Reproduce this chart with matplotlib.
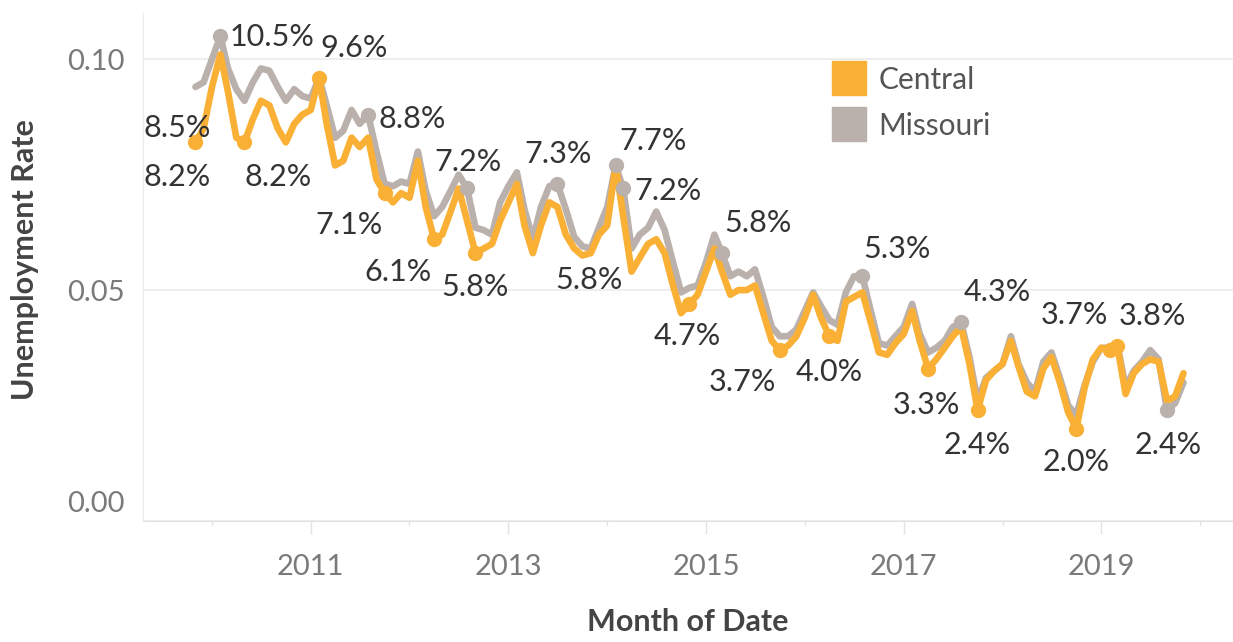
import numpy as np
import pandas as pd
import matplotlib
matplotlib.use("Agg")
import matplotlib.pyplot as plt
import matplotlib.dates as mdates
from matplotlib.lines import Line2D
from matplotlib.transforms import ScaledTranslation

plt.rcParams["font.family"] = ["Lato", "DejaVu Sans"]

# monthly unemployment rate (percent), Nov 2009 .. Nov 2019
months = pd.date_range("2009-11-01", periods=121, freq="MS")

central = [
    8.2, 8.5,
    9.4, 10.1, 9.3, 8.3, 8.2, 8.7, 9.1, 9.0, 8.5, 8.2, 8.6, 8.8,
    8.9, 9.6, 8.6, 7.7, 7.8, 8.3, 8.1, 8.3, 7.4, 7.1, 6.9, 7.1,
    7.0, 7.8, 6.8, 6.1, 6.2, 6.7, 7.2, 6.5, 5.8, 5.9, 6.0, 6.5,
    6.9, 7.3, 6.4, 5.8, 6.4, 6.9, 6.8, 6.2, 5.9, 5.75, 5.8, 6.2,
    6.4, 7.7, 6.6, 5.4, 5.7, 6.0, 6.1, 5.8, 5.1, 4.5, 4.7, 4.9,
    5.4, 5.9, 5.4, 4.9, 5.0, 5.0, 5.1, 4.5, 3.9, 3.7, 3.8, 4.0,
    4.4, 4.9, 4.4, 4.0, 3.9, 4.75, 4.85, 4.95, 4.3, 3.65, 3.6, 3.85,
    4.05, 4.55, 3.9, 3.3, 3.5, 3.75, 4.0, 4.2, 3.4, 2.4, 3.05, 3.25,
    3.4, 3.9, 3.35, 2.8, 2.7, 3.3, 3.55, 3.0, 2.35, 2.0, 2.9, 3.5,
    3.75, 3.7, 3.8, 2.75, 3.2, 3.4, 3.5, 3.45, 2.6, 2.7, 3.2,
]

missouri = [
    9.4, 9.5,
    10.0, 10.5, 9.8, 9.35, 9.1, 9.5, 9.8, 9.75, 9.4, 9.1, 9.35, 9.2,
    9.15, 9.6, 9.0, 8.3, 8.45, 8.9, 8.6, 8.8, 8.0, 7.3, 7.25, 7.35,
    7.3, 8.0, 7.15, 6.6, 6.8, 7.15, 7.5, 7.2, 6.35, 6.3, 6.2, 6.9,
    7.25, 7.55, 6.75, 6.1, 6.8, 7.25, 7.3, 6.75, 6.15, 5.95, 5.9, 6.35,
    6.8, 7.7, 7.2, 5.9, 6.2, 6.35, 6.7, 6.3, 5.6, 4.95, 5.05, 5.1,
    5.6, 6.2, 5.8, 5.3, 5.4, 5.3, 5.45, 4.85, 4.2, 4.0, 4.0, 4.15,
    4.55, 4.95, 4.65, 4.35, 4.25, 4.95, 5.3, 5.3, 4.55, 3.85, 3.8, 4.0,
    4.2, 4.7, 4.05, 3.65, 3.75, 3.9, 4.2, 4.3, 3.55, 2.6, 3.1, 3.25,
    3.4, 4.0, 3.4, 3.0, 2.8, 3.45, 3.65, 3.1, 2.5, 2.3, 2.95, 3.45,
    3.75, 3.75, 3.85, 2.9, 3.25, 3.45, 3.7, 3.5, 2.4, 2.55, 3.0,
]

series_names = ["Central", "Missouri"]
series_colors = {"Central": "#F9B035", "Missouri": "#BAB0AC"}

# labelled points: series, month, text, label offset (pixels, x right / y up), dot?
labels = [
    ("Central", "2009-12", "8.5%", (-26, 0), False),
    ("Central", "2009-11", "8.2%", (-18, -35), True),
    ("Missouri", "2010-02", "10.5%", (52, -1), True),
    ("Central", "2010-05", "8.2%", (34, -35), True),
    ("Central", "2011-02", "9.6%", (35, 30), True),
    ("Missouri", "2011-08", "8.8%", (44, -4), True),
    ("Central", "2011-10", "7.1%", (-36, -32), True),
    ("Missouri", "2012-08", "7.2%", (1, 26), True),
    ("Central", "2012-04", "6.1%", (-36, -33), True),
    ("Central", "2012-09", "5.8%", (0, -34), True),
    ("Missouri", "2013-07", "7.3%", (1, 30), True),
    ("Central", "2013-11", "5.8%", (-2, -27), False),
    ("Missouri", "2014-02", "7.7%", (37, 24), True),
    ("Missouri", "2014-03", "7.2%", (45, -3), True),
    ("Central", "2014-11", "4.7%", (-2, -32), True),
    ("Missouri", "2015-03", "5.8%", (36, 30), True),
    ("Central", "2015-10", "3.7%", (-37, -32), True),
    ("Central", "2016-04", "4.0%", (0, -36), True),
    ("Missouri", "2016-08", "5.3%", (35, 27), True),
    ("Central", "2017-04", "3.3%", (-2, -36), True),
    ("Missouri", "2017-08", "4.3%", (36, 30), True),
    ("Central", "2017-10", "2.4%", (0, -35), True),
    ("Central", "2018-10", "2.0%", (0, -33), True),
    ("Central", "2019-02", "3.7%", (-35, 35), True),
    ("Central", "2019-03", "3.8%", (35, 30), True),
    ("Missouri", "2019-09", "2.4%", (1, -35), True),
]

df = pd.DataFrame({"Central": np.array(central) / 100,
                   "Missouri": np.array(missouri) / 100}, index=months)

W, H = 1233, 642
fig = plt.figure(figsize=(W / 100, H / 100), dpi=100)
ax = fig.add_axes([143 / W, 121 / H, 1090 / W, 508 / H])

for name in ["Missouri", "Central"]:
    ax.plot(df.index, df[name], color=series_colors[name], linewidth=4.8,
            solid_joinstyle="round", solid_capstyle="round",
            zorder=3 if name == "Central" else 2)

for name, month, text, (dx, dy), dot in labels:
    d = pd.Timestamp(month + "-01")
    v = df.loc[d, name]
    if dot:
        ax.plot([d], [v], "o", color=series_colors[name], markersize=10,
                zorder=4 if name == "Central" else 3)
    ax.annotate(text, (d, v), xytext=(dx, dy), textcoords="offset pixels",
                ha="center", va="center", fontsize=22, color="#333333",
                zorder=5)

d2010 = mdates.date2num(pd.Timestamp("2010-01-01"))
d2020 = mdates.date2num(pd.Timestamp("2020-01-01"))
ax.set_xlim(d2010 - 255, d2020 + 122)
ax.set_ylim(0, 0.11)

ax.xaxis.set_minor_locator(mdates.YearLocator(1))
ax.set_xticks([mdates.date2num(pd.Timestamp(f"{y}-01-01")) for y in range(2011, 2020, 2)])
ax.set_xticklabels([str(y) for y in range(2011, 2020, 2)])
ax.tick_params(axis="x", which="major", length=9, width=1, color="#E2E2E2",
               pad=15, labelsize=21, labelcolor="#7A7A7A")
ax.tick_params(axis="x", which="minor", length=3, width=1, color="#E2E2E2")

ax.set_yticks([0, 0.05, 0.10])
ax.set_yticklabels(["0.00", "0.05", "0.10"])
ax.tick_params(axis="y", length=0, pad=13, labelsize=21, labelcolor="#7A7A7A")
lab0 = ax.get_yticklabels()[0]
lab0.set_transform(lab0.get_transform() + ScaledTranslation(0, 20 / 100, fig.dpi_scale_trans))

ax.grid(axis="y", color="#EBEBEB", linewidth=1.2)
ax.set_axisbelow(True)
for s in ["top", "right"]:
    ax.spines[s].set_visible(False)
ax.spines["left"].set_color("#EBEBEB")
ax.spines["bottom"].set_color("#E2E2E2")

handles = [Line2D([], [], linestyle="none", marker="s", markersize=24,
                  color=series_colors[n]) for n in series_names]
fig.legend(handles, series_names, loc="upper left",
           bbox_to_anchor=(816 / W, 1 - 51 / H), frameon=False,
           fontsize=21.5, labelcolor="#555555", handlelength=1.2,
           handletextpad=0.4, labelspacing=0.6, borderpad=0)

fig.text(25 / W, 1 - 260 / H, "Unemployment Rate", rotation=90,
         ha="center", va="center", fontsize=22, color="#444444",
         fontweight="bold")
fig.text(688 / W, 1 - 622 / H, "Month of Date", ha="center", va="center",
         fontsize=22, color="#444444", fontweight="bold")

fig.savefig("out.png", dpi=100)
